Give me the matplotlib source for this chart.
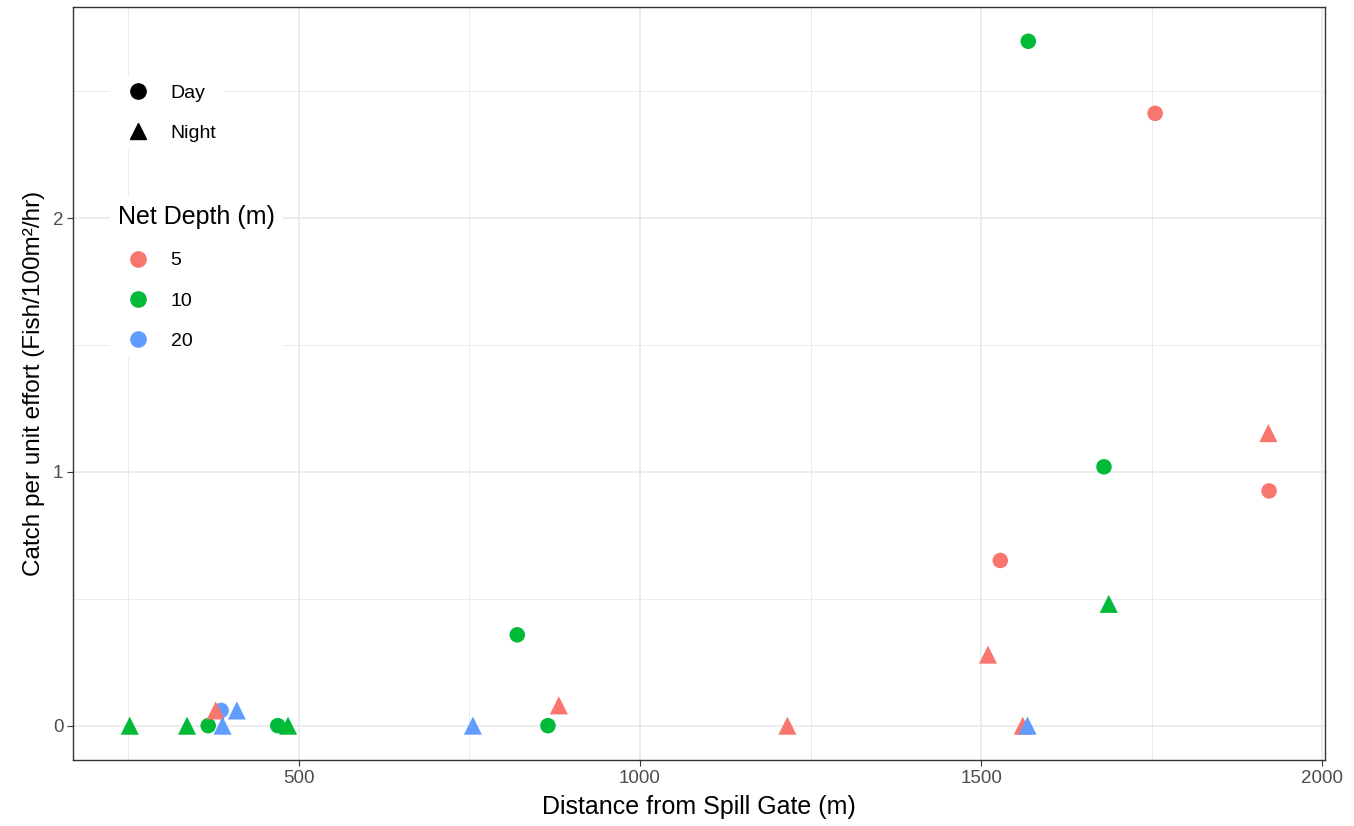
import matplotlib.pyplot as plt
from matplotlib.lines import Line2D
from matplotlib.ticker import MultipleLocator

plt.rcParams['font.family'] = ['Liberation Sans', 'DejaVu Sans']

# day catches (circles)
day_dist = [1569, 1755, 1680, 1922, 1528, 820, 865, 469, 367, 386]
day_cpue = [2.697, 2.413, 1.02, 0.925, 0.651, 0.358, 0.0, 0.0, 0.0, 0.06]
day_depth = [10, 5, 10, 5, 5, 10, 10, 10, 10, 20]

# night catches (triangles)
night_dist = [252, 336, 378, 388, 409, 484, 755, 881, 1216, 1561, 1568, 1510, 1687, 1921]
night_cpue = [0.0, 0.0, 0.06, 0.0, 0.06, 0.0, 0.0, 0.08, 0.0, 0.0, 0.0, 0.28, 0.48, 1.153]
night_depth = [10, 10, 5, 20, 20, 10, 20, 5, 5, 5, 20, 5, 10, 5]

depths = [5, 10, 20]
colors = {5: '#F8766D', 10: '#00BA38', 20: '#619CFF'}

fig = plt.figure(figsize=(13.54, 8.26), dpi=100)
ax = fig.add_axes([0.054, 0.080, 0.9246, 0.9115])

ax.scatter(day_dist, day_cpue, c=[colors[d] for d in day_depth], marker='o',
           s=125, linewidths=0, zorder=3)
ax.scatter(night_dist, night_cpue, c=[colors[d] for d in night_depth], marker='^',
           s=170, linewidths=0, zorder=3)

ax.set_xlim(169, 2004)
ax.set_ylim(-0.135, 2.832)
ax.xaxis.set_major_locator(MultipleLocator(500))
ax.xaxis.set_minor_locator(MultipleLocator(250))
ax.yaxis.set_major_locator(MultipleLocator(1))
ax.yaxis.set_minor_locator(MultipleLocator(0.5))
ax.grid(which='major', color='#EBEBEB', linewidth=1.3, zorder=0)
ax.grid(which='minor', color='#EBEBEB', linewidth=0.7, zorder=0)
ax.set_axisbelow(True)
ax.tick_params(which='minor', length=0)
ax.tick_params(which='major', length=4, color='#333333', labelsize=13.5,
               labelcolor='#4D4D4D', pad=3)
for sp in ax.spines.values():
    sp.set_color('#333333')
    sp.set_linewidth(1.0)

ax.set_xlabel('Distance from Spill Gate (m)', fontsize=18, labelpad=6)
ax.set_ylabel('Catch per unit effort (Fish/100m²/hr)', fontsize=17.5, labelpad=6)

shape_handles = [
    Line2D([], [], marker='o', color='black', linestyle='', markersize=11),
    Line2D([], [], marker='^', color='black', linestyle='', markersize=12),
]
leg1 = ax.legend(shape_handles, ['Day', 'Night'], loc='upper left',
                 bbox_to_anchor=(0.022, 0.921), frameon=True, fontsize=14,
                 handletextpad=0.7, labelspacing=1.16, borderpad=0.4)
leg1.get_frame().set_edgecolor('none')
leg1.get_frame().set_facecolor('white')
leg1.get_frame().set_alpha(1)
ax.add_artist(leg1)

color_handles = [Line2D([], [], marker='o', color=colors[d], linestyle='', markersize=11)
                 for d in depths]
leg2 = ax.legend(color_handles, [str(d) for d in depths], loc='upper left',
                 bbox_to_anchor=(0.022, 0.76), frameon=True, fontsize=14,
                 title='Net Depth (m)', title_fontsize=18, alignment='left',
                 handletextpad=0.7, labelspacing=1.16, borderpad=0.4)
leg2.get_frame().set_edgecolor('none')
leg2.get_frame().set_facecolor('white')
leg2.get_frame().set_alpha(1)

fig.savefig('out.png', dpi=100)
